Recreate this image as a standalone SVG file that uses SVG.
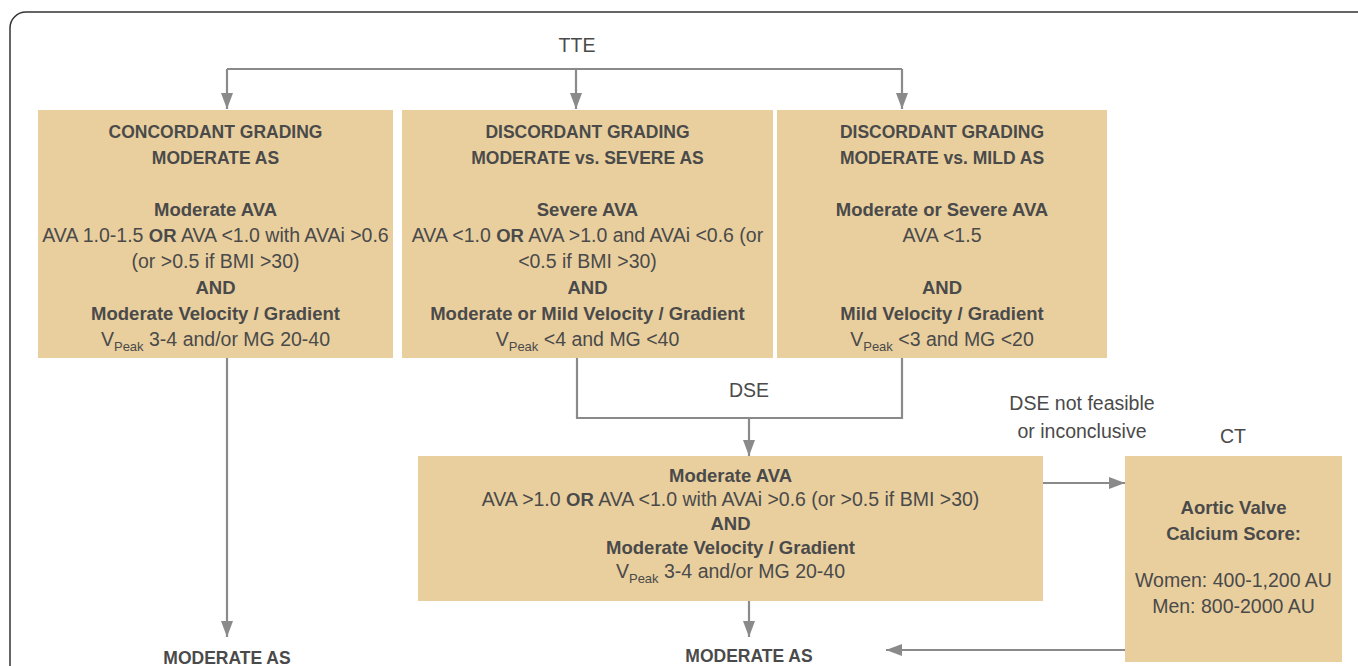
<svg xmlns="http://www.w3.org/2000/svg" width="1358" height="666" viewBox="0 0 1358 666">
<defs>
<marker id="ah" viewBox="0 0 16 12" refX="16" refY="6" markerWidth="16" markerHeight="12" markerUnits="userSpaceOnUse" orient="auto">
<path d="M0,0 L16,6 L0,12 z" fill="#8a8a8a"/>
</marker>
<style>
.box{fill:#e9cf9e;}
.t{font-family:"Liberation Sans",Arial,sans-serif;font-size:19.5px;fill:#4a4a4a;text-anchor:middle;}
.b{font-weight:bold;font-size:18.5px;}
.h{font-weight:bold;font-size:17.5px;}
.sub{font-size:13px;}
.c{fill:none;stroke:#8a8a8a;stroke-width:2.2;}
.ca{fill:none;stroke:#8a8a8a;stroke-width:2.2;marker-end:url(#ah);}
</style>
</defs>
<rect x="10" y="12" width="1400" height="700" rx="16" fill="#ffffff" stroke="#333333" stroke-width="1.5"/>

<g id="connectors">
<path class="c" d="M227,69 H902"/>
<path class="ca" d="M227,69 V109"/>
<path class="ca" d="M576,69 V109"/>
<path class="ca" d="M902,69 V109"/>
<path class="ca" d="M227,358 V637"/>
<path class="c" d="M577,358 V418 H902 V358"/>
<path class="ca" d="M749,418 V456"/>
<path class="ca" d="M749,601 V637"/>
<path class="ca" d="M1043,483 H1125"/>
<path class="ca" d="M1125,650 H886"/>
</g>

<g id="tte-label"><text class="t" x="577" y="52">TTE</text></g>
<g id="dse-label"><text class="t" x="749" y="397">DSE</text></g>
<g id="dse-not-feasible-label">
<text class="t" x="1082" y="410">DSE not feasible</text>
<text class="t" x="1082" y="438">or inconclusive</text>
</g>
<g id="ct-label"><text class="t" x="1233" y="443">CT</text></g>

<g id="concordant">
<rect class="box" x="38" y="110" width="355" height="248"/>
<text class="t h" x="215.5" y="138">CONCORDANT GRADING</text>
<text class="t h" x="215.5" y="164">MODERATE AS</text>
<text class="t b" x="215.5" y="216">Moderate AVA</text>
<text class="t" x="215.5" y="242">AVA 1.0-1.5 <tspan class="b">OR</tspan> AVA &lt;1.0 with AVAi &gt;0.6</text>
<text class="t" x="215.5" y="268">(or &gt;0.5 if BMI &gt;30)</text>
<text class="t b" x="215.5" y="294">AND</text>
<text class="t b" x="215.5" y="320">Moderate Velocity / Gradient</text>
<text class="t" x="215.5" y="346">V<tspan class="sub" dy="5">Peak</tspan><tspan dy="-5"> 3-4 and/or MG 20-40</tspan></text>
</g>

<g id="discordant-severe">
<rect class="box" x="402" y="110" width="371" height="248"/>
<text class="t h" x="587.5" y="138">DISCORDANT GRADING</text>
<text class="t h" x="587.5" y="164">MODERATE vs. SEVERE AS</text>
<text class="t b" x="587.5" y="216">Severe AVA</text>
<text class="t" x="587.5" y="242">AVA &lt;1.0 <tspan class="b">OR</tspan> AVA &gt;1.0 and AVAi &lt;0.6 (or</text>
<text class="t" x="587.5" y="268">&lt;0.5 if BMI &gt;30)</text>
<text class="t b" x="587.5" y="294">AND</text>
<text class="t b" x="587.5" y="320">Moderate or Mild Velocity / Gradient</text>
<text class="t" x="587.5" y="346">V<tspan class="sub" dy="5">Peak</tspan><tspan dy="-5"> &lt;4 and MG &lt;40</tspan></text>
</g>

<g id="discordant-mild">
<rect class="box" x="777" y="110" width="330" height="248"/>
<text class="t h" x="942" y="138">DISCORDANT GRADING</text>
<text class="t h" x="942" y="164">MODERATE vs. MILD AS</text>
<text class="t b" x="942" y="216">Moderate or Severe AVA</text>
<text class="t" x="942" y="242">AVA &lt;1.5</text>
<text class="t b" x="942" y="294">AND</text>
<text class="t b" x="942" y="320">Mild Velocity / Gradient</text>
<text class="t" x="942" y="346">V<tspan class="sub" dy="5">Peak</tspan><tspan dy="-5"> &lt;3 and MG &lt;20</tspan></text>
</g>

<g id="dse-result">
<rect class="box" x="418" y="456" width="625" height="145"/>
<text class="t b" x="730.5" y="482">Moderate AVA</text>
<text class="t" x="730.5" y="506">AVA &gt;1.0 <tspan class="b">OR</tspan> AVA &lt;1.0 with AVAi &gt;0.6 (or &gt;0.5 if BMI &gt;30)</text>
<text class="t b" x="730.5" y="530">AND</text>
<text class="t b" x="730.5" y="554">Moderate Velocity / Gradient</text>
<text class="t" x="730.5" y="578">V<tspan class="sub" dy="5">Peak</tspan><tspan dy="-5"> 3-4 and/or MG 20-40</tspan></text>
</g>

<g id="ct-score">
<rect class="box" x="1125" y="456" width="217" height="206"/>
<text class="t b" x="1233.5" y="514">Aortic Valve</text>
<text class="t b" x="1233.5" y="540">Calcium Score:</text>
<text class="t" x="1233.5" y="587">Women: 400-1,200 AU</text>
<text class="t" x="1233.5" y="613">Men: 800-2000 AU</text>
</g>

<g id="moderate-as-left"><text class="t h" x="227" y="664">MODERATE AS</text></g>
<g id="moderate-as-center"><text class="t h" x="749" y="662">MODERATE AS</text></g>
</svg>
